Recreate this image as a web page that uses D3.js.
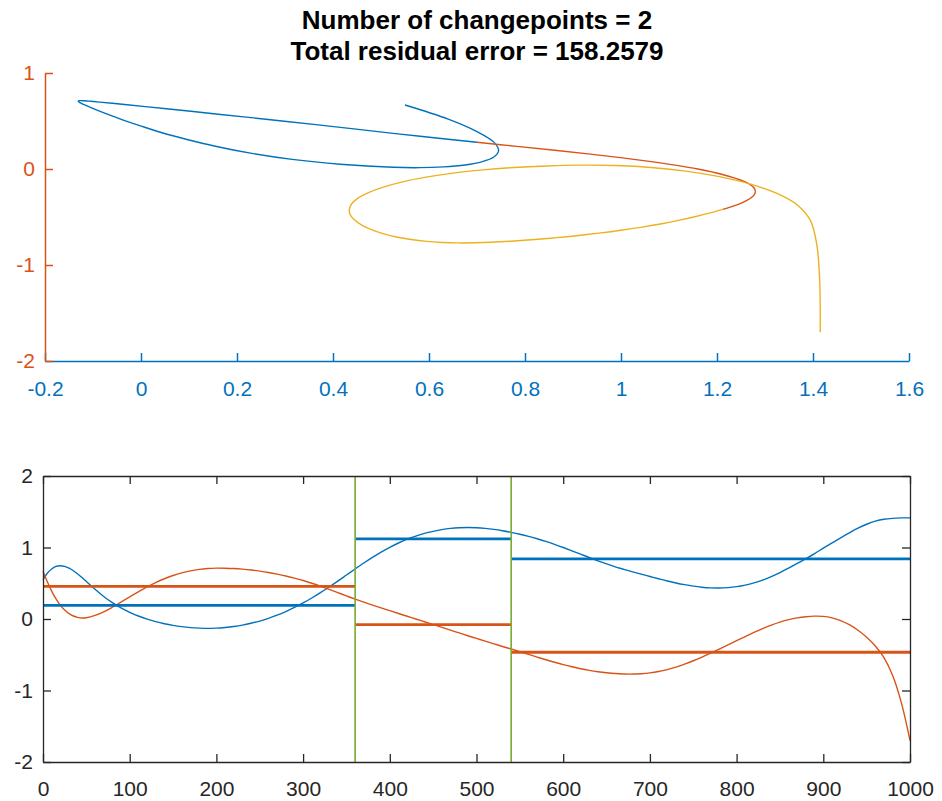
<!DOCTYPE html>
<html>
<head>
<meta charset="utf-8">
<script src="https://cdn.jsdelivr.net/npm/d3@7"></script>
<style>
  html, body { margin: 0; padding: 0; background: #fff; }
  svg { display: block; }
  text { font-family: "Liberation Sans", Arial, Helvetica, sans-serif; }
</style>
</head>
<body>
<svg id="chart" width="942" height="801"></svg>
<script>
// ---------------- data ----------------
const titleLines = ["Number of changepoints = 2", "Total residual error = 158.2579"];

// sample index
const sampleIndex = [0,5,10,15,20,25,30,35,40,45,50,
  60,70,80,90,100,110,120,130,140,150,
  160,170,180,190,200,210,220,230,240,250,
  260,270,280,290,300,310,320,330,340,350,
  360,370,380,390,400,410,420,430,440,450,
  460,470,480,490,500,510,520,530,540,550,
  560,570,580,590,600,610,620,630,640,650,
  660,670,680,690,700,710,720,730,740,750,
  760,770,780,790,800,810,820,830,840,850,
  860,870,880,890,900,910,920,930,940,950,
  960,970,980,990,1000];

// signal 1 (blue)
const signal1 = [0.55,0.64,0.70,0.735,0.745,0.735,0.71,0.675,0.63,0.58,0.525,
  0.415,0.315,0.228,0.155,0.094,0.042,-0.001,-0.037,-0.066,-0.089,
  -0.107,-0.12,-0.128,-0.131,-0.127,-0.118,-0.105,-0.086,-0.060,-0.029,
  0.009,0.053,0.104,0.161,0.224,0.294,0.369,0.448,0.530,0.615,
  0.70,0.783,0.862,0.936,1.003,1.063,1.116,1.16,1.197,1.226,
  1.25,1.267,1.277,1.28,1.277,1.268,1.254,1.235,1.212,1.186,
  1.156,1.122,1.085,1.044,1.0,0.954,0.907,0.86,0.814,0.77,
  0.73,0.695,0.66,0.627,0.595,0.563,0.532,0.504,0.48,0.46,
  0.445,0.436,0.434,0.439,0.452,0.474,0.505,0.545,0.594,0.65,
  0.712,0.777,0.845,0.915,0.99,1.063,1.135,1.205,1.27,1.325,
  1.368,1.395,1.408,1.414,1.415];

// signal 2 (orange)
const signal2 = [0.667,0.52,0.39,0.28,0.19,0.125,0.075,0.042,0.022,0.014,0.018,
  0.05,0.10,0.165,0.237,0.31,0.38,0.449,0.51,0.563,0.608,
  0.645,0.673,0.694,0.707,0.712,0.7106,0.7056,0.697,0.685,0.669,
  0.65,0.627,0.601,0.571,0.538,0.5005,0.46,0.415,0.369,0.323,
  0.278,0.236,0.195,0.155,0.116,0.077,0.038,0.0,-0.039,-0.078,
  -0.117,-0.156,-0.195,-0.234,-0.272,-0.31,-0.347,-0.384,-0.42,-0.457,
  -0.495,-0.533,-0.57,-0.605,-0.638,-0.668,-0.695,-0.718,-0.737,-0.752,
  -0.763,-0.769,-0.77,-0.765,-0.754,-0.735,-0.708,-0.673,-0.631,-0.584,
  -0.532,-0.477,-0.42,-0.362,-0.303,-0.245,-0.188,-0.134,-0.085,-0.043,
  -0.009,0.016,0.032,0.04,0.036,0.016,-0.022,-0.08,-0.158,-0.255,
  -0.377,-0.54,-0.79,-1.17,-1.70];

// changepoints and segment boundaries / means
const segmentStarts = [0, 360, 540];
const segmentEnds   = [360, 540, 1000];
const changepoints  = [360, 540];
const mean1 = [0.19, 1.12, 0.84];
const mean2 = [0.456, -0.079, -0.465];

// tick labels
const topXTicks = [-0.2, 0, 0.2, 0.4, 0.6, 0.8, 1, 1.2, 1.4, 1.6];
const topYTicks = [-2, -1, 0, 1];
const botXTicks = [0, 100, 200, 300, 400, 500, 600, 700, 800, 900, 1000];
const botYTicks = [-2, -1, 0, 1, 2];

// colours
const C_BLUE = "#0072BD", C_ORANGE = "#D95319", C_YELLOW = "#EDB120", C_GREEN = "#77AC30", C_AXIS = "#262626";
const segColors = [C_BLUE, C_ORANGE, C_YELLOW];

// ---------------- drawing ----------------
const svg = d3.select("#chart");
const fmt = d => String(+(+d).toFixed(1));

// titles
svg.selectAll("text.title").data(titleLines).enter().append("text")
  .attr("class", "title")
  .attr("x", 477).attr("y", (d, i) => 29 + i * 31)
  .attr("text-anchor", "middle")
  .attr("font-size", 26).attr("font-weight", "bold").attr("fill", "#000")
  .text(d => d);

// ---------- top: phase plot ----------
const tx = d3.scaleLinear().domain([-0.2, 1.6]).range([45, 909]);
const ty = d3.scaleLinear().domain([-2, 1]).range([361, 73]);
const gTop = svg.append("g");

const pts = sampleIndex.map((t, i) => ({t, a: signal1[i], b: signal2[i]}));
const phaseLine = d3.line().x(d => tx(d.a)).y(d => ty(d.b)).curve(d3.curveCatmullRom.alpha(0.5));

segmentStarts.forEach((s, k) => {
  const seg = pts.filter(p => p.t >= s && p.t <= segmentEnds[k]);
  gTop.append("path").datum(seg)
    .attr("d", phaseLine)
    .attr("fill", "none").attr("stroke", segColors[k]).attr("stroke-width", 1.4)
    .attr("stroke-linejoin", "round");
});

const topXAxis = gTop.append("g").attr("transform", "translate(0,361)")
  .call(d3.axisBottom(tx).tickValues(topXTicks).tickFormat(fmt).tickSizeInner(-8).tickSizeOuter(0).tickPadding(20));
topXAxis.select(".domain").attr("stroke", C_BLUE).attr("stroke-width", 1.5);
topXAxis.selectAll(".tick line").attr("stroke", C_BLUE).attr("stroke-width", 1.5);
topXAxis.selectAll(".tick text").attr("fill", C_BLUE).attr("font-size", 21).attr("font-family", "Liberation Sans, Arial, sans-serif");

const topYAxis = gTop.append("g").attr("transform", "translate(45,0)")
  .call(d3.axisLeft(ty).tickValues(topYTicks).tickFormat(fmt).tickSizeInner(-8).tickSizeOuter(0).tickPadding(10));
topYAxis.select(".domain").attr("stroke", C_ORANGE).attr("stroke-width", 1.5);
topYAxis.selectAll(".tick line").attr("stroke", C_ORANGE).attr("stroke-width", 1.5);
topYAxis.selectAll(".tick text").attr("fill", C_ORANGE).attr("font-size", 21).attr("font-family", "Liberation Sans, Arial, sans-serif");

// ---------- bottom: signals ----------
const bx = d3.scaleLinear().domain([0, 1000]).range([43, 910]);
const by = d3.scaleLinear().domain([-2, 2]).range([762, 476]);
const gBot = svg.append("g");

const sigLine = key => d3.line().x(d => bx(d.t)).y(d => by(d[key])).curve(d3.curveCatmullRom.alpha(0.5));

gBot.append("path").datum(pts).attr("d", sigLine("a"))
  .attr("fill", "none").attr("stroke", C_BLUE).attr("stroke-width", 1.4);
gBot.append("path").datum(pts).attr("d", sigLine("b"))
  .attr("fill", "none").attr("stroke", C_ORANGE).attr("stroke-width", 1.4);

// segment means
const meanData = [];
segmentStarts.forEach((s, k) => {
  meanData.push({x0: s, x1: segmentEnds[k], v: mean1[k], c: C_BLUE});
  meanData.push({x0: s, x1: segmentEnds[k], v: mean2[k], c: C_ORANGE});
});
gBot.selectAll("line.mean").data(meanData).enter().append("line")
  .attr("class", "mean")
  .attr("x1", d => bx(d.x0)).attr("x2", d => bx(d.x1))
  .attr("y1", d => by(d.v)).attr("y2", d => by(d.v))
  .attr("stroke", d => d.c).attr("stroke-width", 2.8);

// changepoint lines
gBot.selectAll("line.cp").data(changepoints).enter().append("line")
  .attr("class", "cp")
  .attr("x1", d => bx(d)).attr("x2", d => bx(d))
  .attr("y1", by(2)).attr("y2", by(-2))
  .attr("stroke", C_GREEN).attr("stroke-width", 1.6);

// axes with box
function styleAxis(g) {
  g.select(".domain").attr("stroke", C_AXIS).attr("stroke-width", 1.3);
  g.selectAll(".tick line").attr("stroke", C_AXIS).attr("stroke-width", 1.3);
  g.selectAll(".tick text").attr("fill", C_AXIS).attr("font-size", 21).attr("font-family", "Liberation Sans, Arial, sans-serif");
}
styleAxis(gBot.append("g").attr("transform", "translate(0,762)")
  .call(d3.axisBottom(bx).tickValues(botXTicks).tickFormat(fmt).tickSizeInner(-8).tickSizeOuter(0).tickPadding(19)));
styleAxis(gBot.append("g").attr("transform", "translate(0,476)")
  .call(d3.axisTop(bx).tickValues(botXTicks).tickFormat("").tickSizeInner(-8).tickSizeOuter(0)));
styleAxis(gBot.append("g").attr("transform", "translate(43,0)")
  .call(d3.axisLeft(by).tickValues(botYTicks).tickFormat(fmt).tickSizeInner(-8).tickSizeOuter(0).tickPadding(10)));
styleAxis(gBot.append("g").attr("transform", "translate(910,0)")
  .call(d3.axisRight(by).tickValues(botYTicks).tickFormat("").tickSizeInner(-8).tickSizeOuter(0)));
</script>
</body>
</html>
